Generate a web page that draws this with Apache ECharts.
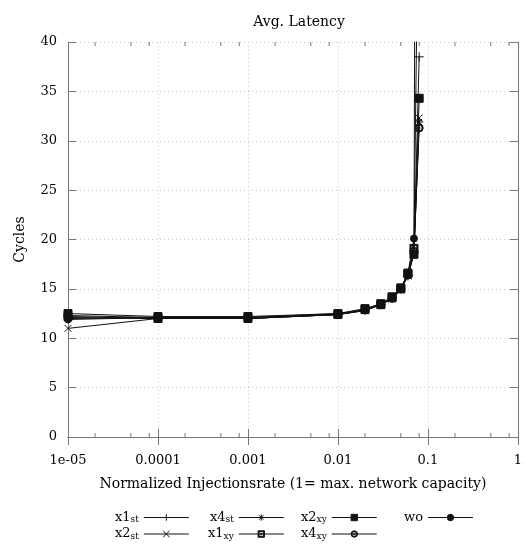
<!DOCTYPE html>
<html>
<head>
<meta charset="utf-8">
<script src="https://cdn.jsdelivr.net/npm/echarts@6/dist/echarts.min.js"></script>
<style>
  html, body { margin: 0; padding: 0; background: #fff; }
  #chart { width: 525px; height: 547px; }
</style>
</head>
<body>
<div id="chart"></div>
<script>
// Injection rates (fraction of max. network capacity)
const rates = [1e-5, 1e-4, 1e-3, 0.01, 0.02, 0.03, 0.04, 0.05, 0.06, 0.07, 0.08];

// Average latency in cycles for each configuration
const x1st = [12.3, 12.1, 12.1, 12.4, 12.9, 13.4, 14.1, 15.0, 16.3, 18.6, 38.5];
const x2st = [11.0, 12.0, 12.0, 12.4, 12.8, 13.4, 14.0, 14.9, 16.3, 18.6, 32.3];
const x4st = [12.0, 12.1, 12.1, 12.5, 12.9, 13.5, 14.1, 15.1, 16.4, 18.7, 31.9];
const x1xy = [12.2, 12.0, 12.0, 12.4, 12.9, 13.4, 14.1, 15.0, 16.6, 19.1, 62.0];
const x2xy = [12.5, 12.2, 12.2, 12.5, 13.0, 13.5, 14.2, 15.1, 16.5, 18.5, 34.3];
const x4xy = [12.1, 12.0, 12.0, 12.4, 12.9, 13.4, 14.1, 15.0, 16.4, 18.8, 31.3];
const wo   = [11.9, 12.1, 12.0, 12.4, 12.8, 13.4, 14.0, 15.0, 16.6, 20.1, 175.0];

// Axis tick labels
const xTickLabels = { '0.00001': '1e-05', '0.0001': '0.0001', '0.001': '0.001', '0.01': '0.01', '0.1': '0.1', '1': '1' };
const minorXTicks = [2e-5, 5e-5, 8e-5, 2e-4, 5e-4, 8e-4, 2e-3, 5e-3, 8e-3, 0.02, 0.05, 0.08, 0.2, 0.5, 0.8];

const FONT = 'DejaVu Serif';
const INK = '#111';

const SYM = {
  plus: 'path://M5,0L5,10M0,5L10,5',
  cross: 'path://M0,0L10,10M0,10L10,0',
  star: 'path://M5,0L5,10M0,5L10,5M1.5,1.5L8.5,8.5M1.5,8.5L8.5,1.5',
  boxDot: 'path://M0,0L10,0L10,10L0,10Z M1.4,1.4L1.4,8.6L8.6,8.6L8.6,1.4Z M4,4L6,4L6,6L4,6Z',
  circDot: 'path://M5,0A5,5 0 1,1 5,10A5,5 0 1,1 5,0Z M5,1.3A3.7,3.7 0 1,0 5,8.7A3.7,3.7 0 1,0 5,1.3Z M5,3.9A1.1,1.1 0 1,1 5,6.1A1.1,1.1 0 1,1 5,3.9Z'
};

function pairs(vals) { return rates.map((r, i) => [r, vals[i]]); }

function lineSeries(name, vals, symbol, size) {
  return {
    type: 'line', name: name, data: pairs(vals),
    symbol: symbol, symbolSize: size,
    clip: true,
    showAllSymbol: true,
    lineStyle: { color: INK, width: 1 },
    itemStyle: { color: INK, borderColor: INK, borderWidth: 1 },
    emphasis: { disabled: true },
    animation: false
  };
}

const labelOf = {
  x1st: '{b|x1}{s|st}', x2st: '{b|x2}{s|st}', x4st: '{b|x4}{s|st}',
  x1xy: '{b|x1}{s|xy}', x2xy: '{b|x2}{s|xy}', x4xy: '{b|x4}{s|xy}', wo: '{b|wo}'
};

function legendCol(names, left) {
  return {
    data: names, orient: 'vertical', left: left, top: 506, height: 80,
    align: 'right', itemWidth: 45, itemHeight: 8, itemGap: 3,
    selectedMode: false,
    itemStyle: { borderWidth: 1 },
    lineStyle: { width: 1 },
    formatter: n => labelOf[n],
    textStyle: {
      fontFamily: FONT, color: '#000',
      rich: {
        b: { fontFamily: FONT, fontSize: 13, color: '#000', height: 16, verticalAlign: 'middle' },
        s: { fontFamily: FONT, fontSize: 9, color: '#000', height: 16, verticalAlign: 'bottom', padding: [5, 0, 0, 0] }
      }
    }
  };
}

const chart = echarts.init(document.getElementById('chart'), null, { renderer: 'canvas' });

const gridLine = { show: true, lineStyle: { color: '#c8c8c8', type: [1, 3], width: 1 } };
const frame = { show: true, lineStyle: { color: '#777', width: 1 } };

chart.setOption({
  backgroundColor: '#fff',
  animation: false,
  title: {
    text: 'Avg. Latency', left: 294, top: 10, textAlign: 'center',
    textStyle: { fontFamily: FONT, fontSize: 14, fontWeight: 'normal', color: '#000' }
  },
  grid: { left: 68, right: 4, top: 42, bottom: 110, show: false },
  xAxis: [{
    type: 'log', logBase: 10, min: 1e-5, max: 1,
    name: 'Normalized Injectionsrate (1= max. network capacity)',
    nameLocation: 'middle', nameGap: 40,
    nameTextStyle: { fontFamily: FONT, fontSize: 14, color: '#000' },
    axisLine: frame,
    axisTick: { show: true, inside: true, length: 8, lineStyle: { color: '#777' } },
    axisLabel: {
      fontFamily: FONT, fontSize: 13, color: '#000', margin: 17,
      formatter: v => xTickLabels[String(+v.toPrecision(6))] ?? ''
    },
    splitLine: gridLine
  }, {
    type: 'log', logBase: 10, min: 1e-5, max: 1, position: 'top',
    axisLine: frame,
    axisTick: { show: true, inside: true, length: 8, lineStyle: { color: '#777' } },
    axisLabel: { show: false },
    splitLine: { show: false }
  }],
  yAxis: [{
    type: 'value', min: 0, max: 40, interval: 5,
    name: 'Cycles', nameLocation: 'middle', nameGap: 41, nameRotate: 90,
    nameTextStyle: { fontFamily: FONT, fontSize: 14, color: '#000' },
    axisLine: frame,
    axisTick: { show: true, inside: true, length: 8, lineStyle: { color: '#777' } },
    axisLabel: { fontFamily: FONT, fontSize: 13, color: '#000', margin: 11 },
    splitLine: gridLine
  }, {
    type: 'value', min: 0, max: 40, interval: 5, position: 'right',
    axisLine: frame,
    axisTick: { show: true, inside: true, length: 8, lineStyle: { color: '#777' } },
    axisLabel: { show: false },
    splitLine: { show: false }
  }],
  legend: [
    legendCol(['x1st', 'x2st'], 110),
    legendCol(['x4st', 'x1xy'], 203),
    legendCol(['x2xy', 'x4xy'], 296),
    legendCol(['wo'], 399)
  ],
  series: [
    {
      type: 'custom', name: 'minor ticks', silent: true, z: 1,
      data: minorXTicks.map(v => [v]),
      renderItem: (params, api) => {
        const v = api.value(0);
        const b = api.coord([v, 0]);
        const t = api.coord([v, 40]);
        const st = { stroke: '#777', lineWidth: 1 };
        return {
          type: 'group', children: [
            { type: 'line', shape: { x1: b[0], y1: b[1], x2: b[0], y2: b[1] - 4 }, style: st },
            { type: 'line', shape: { x1: t[0], y1: t[1], x2: t[0], y2: t[1] + 4 }, style: st }
          ]
        };
      },
      encode: { x: 0 },
      clip: false
    },
    lineSeries('x1st', x1st, SYM.plus, 9),
    lineSeries('x2st', x2st, SYM.cross, 7),
    lineSeries('x4st', x4st, SYM.star, 8),
    lineSeries('x1xy', x1xy, SYM.boxDot, 8),
    lineSeries('x2xy', x2xy, 'rect', 8),
    lineSeries('x4xy', x4xy, SYM.circDot, 8),
    lineSeries('wo', wo, 'circle', 7)
  ]
});
</script>
</body>
</html>
